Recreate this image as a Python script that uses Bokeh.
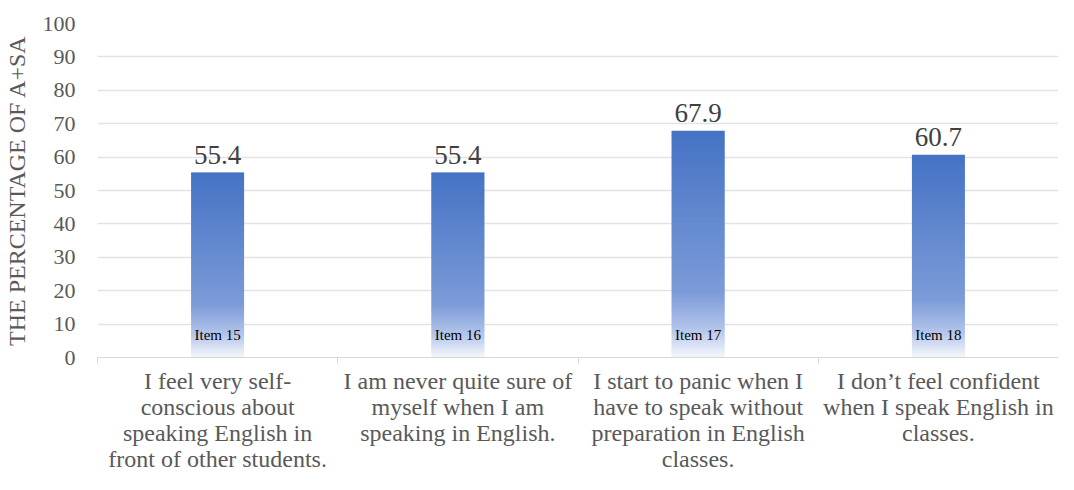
from bokeh.plotting import figure
from bokeh.models import FixedTicker, Range1d
from bokeh.core.properties import value
from bokeh.embed import file_html
from bokeh.resources import INLINE

categories = [
    "I feel very self-\nconscious about\nspeaking English in\nfront of other students.",
    "I am never quite sure of\nmyself when I am\nspeaking in English.",
    "I start to panic when I\nhave to speak without\npreparation in English\nclasses.",
    "I don\u2019t feel confident\nwhen I speak English in\nclasses.",
]
items = ["Item 15", "Item 16", "Item 17", "Item 18"]
values = [55.4, 55.4, 67.9, 60.7]
y_ticks = [0, 10, 20, 30, 40, 50, 60, 70, 80, 90, 100]

FONT = "Liberation Serif"

p = figure(width=1058, height=474, output_backend="svg", toolbar_location=None,
           x_range=Range1d(0, len(categories)), y_range=Range1d(0, 100),
           min_border_left=97, min_border_right=0, min_border_top=23, min_border_bottom=0)
p.outline_line_color = None
p.background_fill_color = "white"

# gradient stops: (t from top, rgb)
stops = [(0.0, (68, 114, 196)), (0.72, (124, 155, 216)), (0.88, (178, 196, 234)), (1.0, (242, 245, 251))]

def color_at(t):
    for (t0, c0), (t1, c1) in zip(stops[:-1], stops[1:]):
        if t0 <= t <= t1:
            f = (t - t0) / (t1 - t0)
            return "#%02x%02x%02x" % tuple(int(round(a + (b - a) * f)) for a, b in zip(c0, c1))
    return "#%02x%02x%02x" % stops[-1][1]

N = 120
left, right, bottom, top, colors = [], [], [], [], []
bw = 0.22
for i, v in enumerate(values):
    cx = i + 0.5
    for k in range(N):
        t0 = k / N
        t1 = (k + 1) / N
        overlap = 0 if k == 0 else v / N * 0.8
        top.append(v * (1 - t0) + overlap)
        bottom.append(v * (1 - t1))
        left.append(cx - bw / 2)
        right.append(cx + bw / 2)
        colors.append(color_at((t0 + t1) / 2))

p.quad(left=left, right=right, bottom=bottom, top=top, fill_color=colors, line_color=None)

xs = [i + 0.5 for i in range(len(values))]
p.text(x=xs, y=[v + 2.6 for v in values], text=[f"{v:.1f}" for v in values],
       text_font=value(FONT), text_font_size="27px", text_color="#404040",
       text_align="center", text_baseline="bottom")
p.text(x=xs, y=[6.6] * len(items), text=items, text_font=value(FONT), text_font_size="15px",
       text_color="#000000", text_align="center", text_baseline="middle")

# axes
xa = p.xaxis[0]
xa.ticker = FixedTicker(ticks=xs, minor_ticks=[0, 1, 2, 3, 4])
xa.major_label_overrides = {x: c for x, c in zip(xs, categories)}
xa.major_tick_line_color = None
xa.major_tick_out = 0
xa.major_tick_in = 0
xa.minor_tick_line_color = "#d9d9d9"
xa.minor_tick_out = 6
xa.minor_tick_in = 0
xa.axis_line_color = "#d9d9d9"
xa.major_label_text_font = FONT
xa.major_label_text_font_size = "24px"
xa.major_label_text_color = "#595959"
xa.major_label_text_line_height = 1.0
xa.major_label_standoff = 4

ya = p.yaxis[0]
ya.ticker = FixedTicker(ticks=y_ticks)
ya.axis_line_color = None
ya.major_tick_line_color = None
ya.major_tick_out = 0
ya.major_tick_in = 0
ya.minor_tick_line_color = None
ya.major_label_text_font = FONT
ya.major_label_text_font_size = "22px"
ya.major_label_text_color = "#595959"
ya.major_label_standoff = 22
ya.axis_label = "THE PERCENTAGE OF A+SA"
ya.axis_label_text_font = FONT
ya.axis_label_text_font_size = "24px"
ya.axis_label_text_font_style = "normal"
ya.axis_label_text_color = "#595959"
ya.axis_label_standoff = 10

p.xgrid.grid_line_color = None
p.ygrid.ticker = FixedTicker(ticks=y_ticks[1:])
p.ygrid.grid_line_color = "#e3e3e3"
p.ygrid.grid_line_width = 1.3

open("out.html", "w").write(file_html(p, INLINE))
